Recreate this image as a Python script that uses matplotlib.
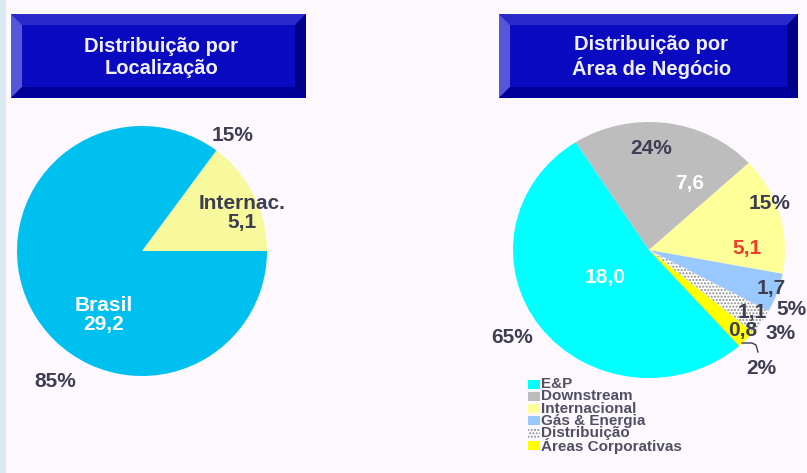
import matplotlib.pyplot as plt
import matplotlib.patches as mpatches
import numpy as np

plt.rcParams['font.family'] = ['Liberation Sans', 'DejaVu Sans']

# left pie: by location
loc_labels = ['Internac.', 'Brasil']
loc_values = [5.1, 29.2]
loc_pct = ['15%', '85%']
loc_colors = ['#f8f89c', '#00c0f0']

# right pie: by business area
area_labels = ['E&P', 'Downstream', 'Internacional', 'Gás & Energia',
               'Distribuição', 'Áreas Corporativas']
area_values = [18.0, 7.6, 5.1, 1.7, 1.1, 0.8]
area_value_txt = ['18,0', '7,6', '5,1', '1,7', '1,1', '0,8']
area_pct = ['65%', '24%', '15%', '5%', '3%', '2%']
area_colors = ['#00ffff', '#bdbdbd', '#ffff99', '#99c8ff', '#ffffff', '#ffff00']

W, H = 807, 473
bg = '#fcf8fd'
txt_dark = '#3e3e52'

fig = plt.figure(figsize=(W / 100, H / 100), dpi=100, facecolor=bg)


def px_axes(x0, y0, x1, y1):
    return fig.add_axes([x0 / W, 1 - y1 / H, (x1 - x0) / W, (y1 - y0) / H])


# pies
ax1 = px_axes(17, 126, 267, 376)
ax1.pie(loc_values, colors=loc_colors, startangle=0, counterclock=True,
        wedgeprops=dict(linewidth=0))
ax1.set_xlim(-1, 1)
ax1.set_ylim(-1, 1)
ax1.set_aspect('auto')
ax1.axis('off')

ax2 = px_axes(513, 122, 785, 378)
wedges, _ = ax2.pie(area_values, colors=area_colors, startangle=-48.5,
                    counterclock=False, wedgeprops=dict(linewidth=0))
wedges[4].set_hatch('.....')
wedges[4].set_edgecolor('#8c8c8c')
ax2.set_xlim(-1, 1)
ax2.set_ylim(-1, 1)
ax2.set_aspect('auto')
ax2.axis('off')

# overlay in pixel coords for boxes and labels
ov = fig.add_axes([0, 0, 1, 1])
ov.set_xlim(0, W)
ov.set_ylim(H, 0)
ov.axis('off')
ov.patch.set_alpha(0)

# left edge strip of the slide
ov.add_patch(mpatches.Rectangle((0, 0), 6, H, color='#dae8f2', lw=0))


def title_box(x0, y0, x1, y1, text):
    b = 11
    face = '#0a0ac0'
    ov.add_patch(mpatches.Rectangle((x0, y0), x1 - x0, y1 - y0, color=face, lw=0))
    ov.add_patch(mpatches.Polygon([(x0, y0), (x1, y0), (x1 - b, y0 + b), (x0 + b, y0 + b)],
                                  color='#2a2acb', lw=0))
    ov.add_patch(mpatches.Polygon([(x0, y0), (x0 + b, y0 + b), (x0 + b, y1 - b), (x0, y1)],
                                  color='#5656d8', lw=0))
    ov.add_patch(mpatches.Polygon([(x1, y0), (x1, y1), (x1 - b, y1 - b), (x1 - b, y0 + b)],
                                  color='#000088', lw=0))
    ov.add_patch(mpatches.Polygon([(x0, y1), (x1, y1), (x1 - b, y1 - b), (x0 + b, y1 - b)],
                                  color='#000098', lw=0))
    ov.text((x0 + x1) / 2 + 3, (y0 + y1) / 2 + 1, text, color='#f0f0ff', fontsize=14.5,
            fontweight='bold', ha='center', va='center', linespacing=1.2)


title_box(11, 14, 306, 98, 'Distribuição por\nLocalização')
title_box(499, 14, 798, 98, 'Distribuição por\nÁrea de Negócio')

bold = dict(fontweight='bold', ha='center', va='center', fontsize=15)

# left pie labels
ov.text(242, 213, loc_labels[0] + '\n5,1', color=txt_dark, linespacing=1.05, **bold)
ov.text(104, 315, loc_labels[1] + '\n29,2', color='white', linespacing=1.05, **bold)
ov.text(233, 135, loc_pct[0], color=txt_dark, **bold)
ov.text(55, 381, loc_pct[1], color=txt_dark, **bold)

# right pie labels
val_pos = [(605, 277), (690, 183), (747, 248), (771, 288), (752, 312), (743, 330)]
val_col = ['white', 'white', '#f03c28', txt_dark, txt_dark, txt_dark]
for t, (x, y), c in zip(area_value_txt, val_pos, val_col):
    ov.text(x, y, t, color=c, **bold)
pct_pos = [(512, 337), (651, 148), (770, 203), (791, 309), (781, 333), (761, 368)]
for t, (x, y) in zip(area_pct, pct_pos):
    ov.text(x, y, t, color=txt_dark, **bold)
ov.plot([742, 752, 756, 758], [343, 343, 345, 352], color=txt_dark, lw=1)

# legend
for i, (lab, col) in enumerate(zip(area_labels, area_colors)):
    y = 384 + i * 12.3
    sq = mpatches.Rectangle((528, y - 4.5), 12, 9, facecolor=col, lw=0)
    if lab == 'Distribuição':
        sq.set_hatch('.....')
        sq.set_edgecolor('#8c8c8c')
    ov.add_patch(sq)
    ov.text(541, y, lab, color='#505062', fontsize=11, fontweight='bold',
            ha='left', va='center')

fig.savefig('out.png', dpi=100, facecolor=bg)
